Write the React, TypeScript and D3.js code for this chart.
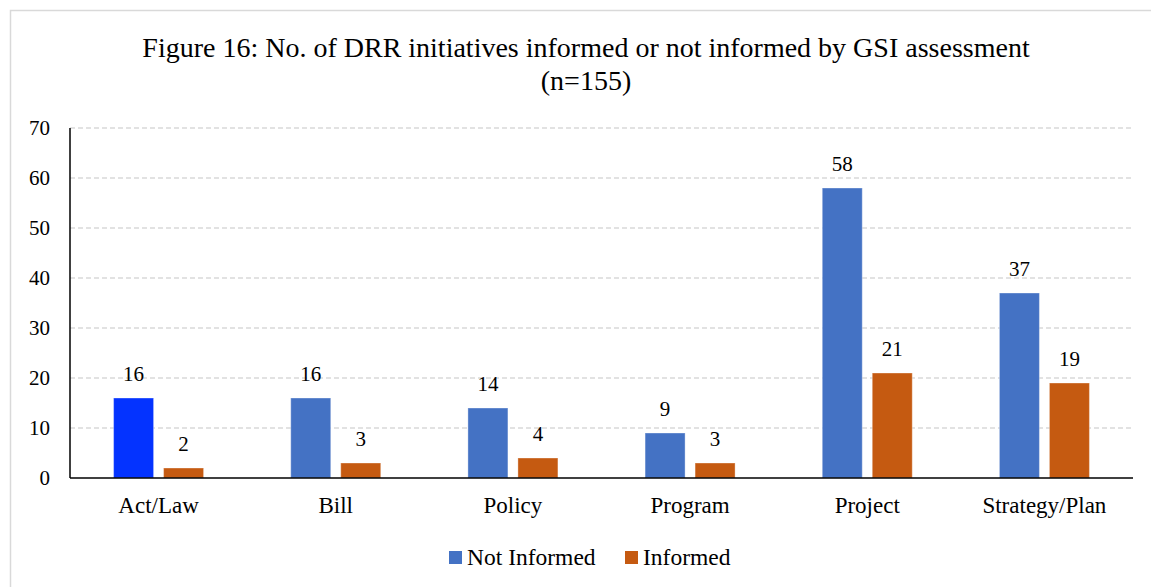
import React from "react";
import * as d3 from "d3";

const categories = ["Act/Law", "Bill", "Policy", "Program", "Project", "Strategy/Plan"];
const notInformed = [16, 16, 14, 9, 58, 37];
const informed = [2, 3, 4, 3, 21, 19];
const seriesNames = ["Not Informed", "Informed"];
const yTicks = [0, 10, 20, 30, 40, 50, 60, 70];
const titleLines = [
  "Figure 16: No. of DRR initiatives informed or not informed by GSI assessment",
  "(n=155)",
];

const W = 1151;
const H = 587;
const FONT = "'Liberation Serif', 'DejaVu Serif', serif";
const BLUE = "#4472C4";
const ORANGE = "#C55A11";
const HIGHLIGHT = "#0433FF";

export default function App() {
  const margin = { left: 70, right: 1133, top: 128, bottom: 478 };
  const x = d3
    .scaleBand<string>()
    .domain(categories)
    .range([margin.left, margin.right])
    .paddingInner(0)
    .paddingOuter(0);
  const y = d3.scaleLinear().domain([0, 70]).range([margin.bottom, margin.top]);
  const barW = 40;
  const gap = 10;

  const bars = categories.flatMap((c, i) => {
    const cx = (x(c) as number) + x.bandwidth() / 2;
    return [
      { key: `n-${i}`, x: cx - gap / 2 - barW, v: notInformed[i], fill: i === 0 ? HIGHLIGHT : BLUE },
      { key: `i-${i}`, x: cx + gap / 2, v: informed[i], fill: ORANGE },
    ];
  });

  return (
    <svg width={W} height={H} style={{ position: "absolute", left: 0, top: 0, background: "#fff" }}>
      <rect x={0} y={0} width={W} height={H} fill="#fff" />
      <rect x={10.5} y={10.5} width={W + 20} height={H + 20} fill="none" stroke="#D9D9D9" strokeWidth={1.5} />
      {titleLines.map((t, i) => (
        <text
          key={i}
          x={586}
          y={57 + i * 33}
          textAnchor="middle"
          fontFamily={FONT}
          fontSize={28}
          fill="#000"
        >
          {t}
        </text>
      ))}
      {yTicks.map((t) => (
        <g key={t}>
          {t > 0 && (
            <line
              x1={margin.left}
              x2={margin.right}
              y1={y(t)}
              y2={y(t)}
              stroke="#D9D9D9"
              strokeWidth={1.5}
              strokeDasharray="5,3"
            />
          )}
          <text
            x={50}
            y={y(t) + 7}
            textAnchor="end"
            fontFamily={FONT}
            fontSize={21}
            fill="#000"
          >
            {t}
          </text>
        </g>
      ))}
      {bars.map((b) => (
        <g key={b.key}>
          <rect
            x={b.x}
            y={y(b.v)}
            width={barW}
            height={y(0) - y(b.v)}
            fill={b.fill}
            stroke="#fff"
            strokeOpacity={0.35}
            strokeWidth={1}
          />
          <text
            x={b.x + barW / 2}
            y={y(b.v) - 17}
            textAnchor="middle"
            fontFamily={FONT}
            fontSize={21}
            fill="#000"
          >
            {b.v}
          </text>
        </g>
      ))}
      <line x1={margin.left} x2={margin.left} y1={margin.top} y2={margin.bottom} stroke="#000" strokeWidth={1.5} />
      <line x1={margin.left} x2={margin.right} y1={margin.bottom} y2={margin.bottom} stroke="#000" strokeWidth={1.5} />
      {categories.map((c) => (
        <text
          key={c}
          x={(x(c) as number) + x.bandwidth() / 2}
          y={513}
          textAnchor="middle"
          fontFamily={FONT}
          fontSize={23}
          fill="#000"
        >
          {c}
        </text>
      ))}
      <g>
        <rect x={449} y={551} width={13} height={13} fill={BLUE} />
        <text x={467} y={565} fontFamily={FONT} fontSize={23.5} fill="#000">
          {seriesNames[0]}
        </text>
        <rect x={625} y={551} width={13} height={13} fill={ORANGE} />
        <text x={643} y={565} fontFamily={FONT} fontSize={23.5} fill="#000">
          {seriesNames[1]}
        </text>
      </g>
    </svg>
  );
}
